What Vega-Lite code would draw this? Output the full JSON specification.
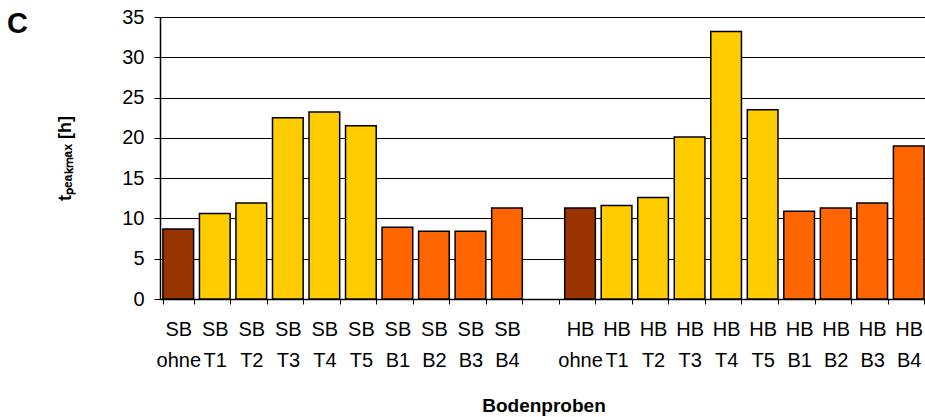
{
  "$schema": "https://vega.github.io/schema/vega-lite/v6.json",
  "width": 767,
  "height": 282,
  "autosize": "none",
  "padding": {"left": 160, "top": 17, "right": 0, "bottom": 118},
  "background": "white",
  "config": {
    "font": "Liberation Sans",
    "view": {"stroke": null}
  },
  "title": {
    "text": "C",
    "anchor": "start",
    "frame": "group",
    "dx": -153,
    "offset": -32,
    "fontSize": 29,
    "fontWeight": "bold",
    "font": "Liberation Sans",
    "color": "black"
  },
  "data": {
    "values": [
      {"probe": "SB|ohne", "typ": "ohne", "t": 8.7},
      {"probe": "SB|T1", "typ": "T", "t": 10.6},
      {"probe": "SB|T2", "typ": "T", "t": 11.9},
      {"probe": "SB|T3", "typ": "T", "t": 22.5},
      {"probe": "SB|T4", "typ": "T", "t": 23.2},
      {"probe": "SB|T5", "typ": "T", "t": 21.5},
      {"probe": "SB|B1", "typ": "B", "t": 8.9},
      {"probe": "SB|B2", "typ": "B", "t": 8.4},
      {"probe": "SB|B3", "typ": "B", "t": 8.4},
      {"probe": "SB|B4", "typ": "B", "t": 11.3},
      {"probe": "HB|ohne", "typ": "ohne", "t": 11.3},
      {"probe": "HB|T1", "typ": "T", "t": 11.6},
      {"probe": "HB|T2", "typ": "T", "t": 12.6},
      {"probe": "HB|T3", "typ": "T", "t": 20.1},
      {"probe": "HB|T4", "typ": "T", "t": 33.2},
      {"probe": "HB|T5", "typ": "T", "t": 23.5},
      {"probe": "HB|B1", "typ": "B", "t": 10.9},
      {"probe": "HB|B2", "typ": "B", "t": 11.3},
      {"probe": "HB|B3", "typ": "B", "t": 11.9},
      {"probe": "HB|B4", "typ": "B", "t": 19.0}
    ]
  },
  "mark": {"type": "bar", "stroke": "black", "strokeWidth": 1.5},
  "encoding": {
    "x": {
      "field": "probe",
      "type": "nominal",
      "sort": null,
      "scale": {
        "domain": ["SB|ohne", "SB|T1", "SB|T2", "SB|T3", "SB|T4", "SB|T5", "SB|B1", "SB|B2", "SB|B3", "SB|B4", "gap", "HB|ohne", "HB|T1", "HB|T2", "HB|T3", "HB|T4", "HB|T5", "HB|B1", "HB|B2", "HB|B3", "HB|B4"],
        "paddingInner": 0.16,
        "paddingOuter": 0.08
      },
      "axis": {
        "title": "Bodenproben",
        "titleFontSize": 19,
        "titleFontWeight": "bold",
        "titleColor": "black",
        "titlePadding": 26,
        "labelExpr": "(isString(datum.value) && datum.value != 'gap') ? split(datum.value, '|') : ''",
        "labelAngle": 0,
        "labelFontSize": 20,
        "labelColor": "black",
        "labelLineHeight": 31,
        "labelPadding": 15,
        "labelBaseline": "top",
        "tickBand": "extent",
        "tickSize": 5,
        "tickColor": "black",
        "domainColor": "black",
        "domainWidth": 1.5,
        "labelOverlap": false,
        "labelBound": false
      }
    },
    "y": {
      "field": "t",
      "type": "quantitative",
      "scale": {"domain": [0, 35], "nice": false},
      "axis": {
        "values": [0, 5, 10, 15, 20, 25, 30, 35],
        "title": "tₚₑₐₖₘₐₓ [h]",
        "titleFontSize": 18,
        "titleFontWeight": "bold",
        "titleColor": "black",
        "titlePadding": 47,
        "labelFontSize": 20,
        "labelColor": "black",
        "labelPadding": 10,
        "tickSize": 6,
        "tickColor": "black",
        "domainColor": "black",
        "domainWidth": 1.5,
        "grid": true,
        "gridColor": "black",
        "gridOpacity": 1,
        "gridWidth": 1.2
      }
    },
    "color": {
      "field": "typ",
      "type": "nominal",
      "scale": {"domain": ["ohne", "T", "B"], "range": ["#993300", "#FFCC00", "#FF6600"]},
      "legend": null
    }
  }
}
